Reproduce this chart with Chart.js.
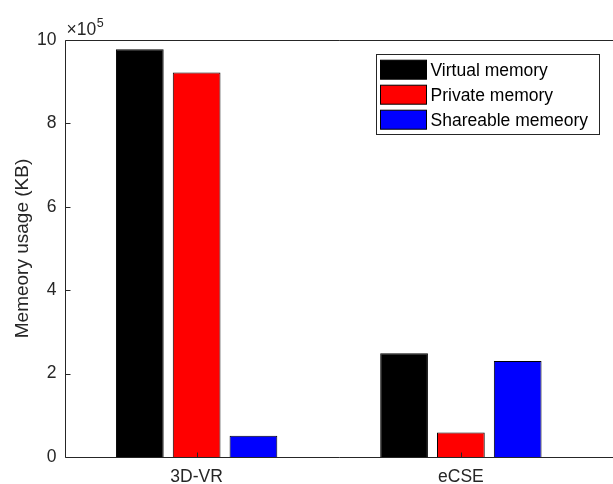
<!DOCTYPE html>
<html>
<head>
<meta charset="utf-8">
<script src="https://cdn.jsdelivr.net/npm/chart.js@4"></script>
<style>
  html, body { margin: 0; padding: 0; background: #fff; }
  #chart { display: block; }
</style>
</head>
<body>
<canvas id="chart" width="613" height="484"></canvas>
<script>
// Memory usage per application (KB)
const categories = ['3D-VR', 'eCSE'];
const virtualMemory = [978000, 249000];
const privateMemory = [922000, 59000];
const shareableMemory = [51000, 230000];
const yTicks = [0, 200000, 400000, 600000, 800000, 1000000];
const seriesNames = ['Virtual memory', 'Private memory', 'Shareable memeory'];
const seriesColors = ['#000000', '#ff0000', '#0000ff'];

const FONT = "'Liberation Sans', Arial, Helvetica, sans-serif";
const AXIS_COLOR = '#262626';

// Axes box, exponent label, inward tick marks and the boxed legend
const decorations = {
  id: 'decorations',
  afterDatasetsDraw(chart) {
    const { ctx, chartArea: a, scales: { x, y } } = chart;
    const W = chart.width;
    ctx.save();
    ctx.strokeStyle = AXIS_COLOR;
    ctx.lineWidth = 1;
    const top = Math.round(a.top) + 0.5;
    const bottom = Math.round(a.bottom) + 0.5;
    const left = Math.round(a.left) + 0.5;
    ctx.beginPath();
    ctx.moveTo(left, top); ctx.lineTo(W, top);
    ctx.moveTo(left, bottom); ctx.lineTo(W, bottom);
    ctx.moveTo(left, top); ctx.lineTo(left, bottom);
    // inward ticks
    yTicks.forEach(v => {
      const py = Math.round(y.getPixelForValue(v)) + 0.5;
      ctx.moveTo(left, py); ctx.lineTo(left + 5, py);
    });
    categories.forEach((c, i) => {
      const px = Math.round(x.getPixelForValue(i)) + 0.5;
      ctx.moveTo(px, bottom); ctx.lineTo(px, bottom - 5);
    });
    ctx.stroke();

    // exponent multiplier
    ctx.fillStyle = AXIS_COLOR;
    ctx.textBaseline = 'alphabetic';
    ctx.textAlign = 'left';
    ctx.font = `17.5px ${FONT}`;
    const base = '\u00d710';
    ctx.fillText(base, a.left + 2, a.top - 5);
    const bw = ctx.measureText(base).width;
    ctx.font = `12.5px ${FONT}`;
    ctx.fillText('5', a.left + 2 + bw + 0.5, a.top - 13);

    // legend
    const lx = 376, ly = 54, lw = 223, lh = 80;
    ctx.fillStyle = '#ffffff';
    ctx.fillRect(lx, ly, lw, lh);
    ctx.strokeStyle = '#262626';
    ctx.strokeRect(lx + 0.5, ly + 0.5, lw, lh);
    ctx.font = `17.5px ${FONT}`;
    ctx.textBaseline = 'middle';
    chart.data.datasets.forEach((ds, i) => {
      const cy = 69.7 + i * 25;
      ctx.fillStyle = ds.backgroundColor;
      ctx.fillRect(380.5, cy - 9.5, 46, 19);
      ctx.strokeStyle = '#000';
      ctx.strokeRect(380.5, cy - 9.5, 46, 19);
      ctx.fillStyle = '#000';
      ctx.fillText(ds.label, 430.5, cy + 1);
    });
    ctx.restore();
  }
};

const series = [virtualMemory, privateMemory, shareableMemory];

new Chart(document.getElementById('chart'), {
  type: 'bar',
  data: {
    labels: categories,
    datasets: series.map((values, i) => ({
      label: seriesNames[i],
      data: values,
      backgroundColor: seriesColors[i],
      borderColor: '#000000',
      borderWidth: 1,
      categoryPercentage: 0.645,
      barPercentage: 0.84
    }))
  },
  options: {
    responsive: false,
    devicePixelRatio: 1,
    animation: false,
    layout: { padding: { left: 0, right: 20, top: 40, bottom: 0 } },
    plugins: {
      legend: { display: false },
      tooltip: { enabled: false }
    },
    scales: {
      x: {
        type: 'category',
        offset: true,
        grid: { display: false, drawTicks: false },
        border: { display: false },
        ticks: {
          color: AXIS_COLOR,
          font: { family: FONT, size: 17.5 },
          padding: 10,
          maxRotation: 0
        },
        afterFit(scale) { scale.height = 27; }
      },
      y: {
        min: 0,
        max: 1000000,
        grid: { display: false, drawTicks: false },
        border: { display: false },
        afterBuildTicks(scale) { scale.ticks = yTicks.map(v => ({ value: v })); },
        ticks: {
          color: AXIS_COLOR,
          font: { family: FONT, size: 17.5 },
          padding: 8,
          callback: v => String(v / 100000)
        },
        title: {
          display: true,
          text: 'Memeory usage (KB)',
          color: AXIS_COLOR,
          font: { family: FONT, size: 19 },
          padding: { top: 11.6, bottom: 0 }
        },
        afterFit(scale) { scale.width = 64.5; }
      }
    }
  },
  plugins: [decorations]
});
</script>
</body>
</html>
